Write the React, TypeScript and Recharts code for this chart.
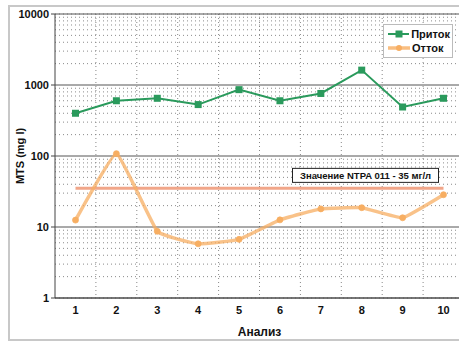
import { LineChart, Line, XAxis, YAxis, CartesianGrid, ReferenceLine } from "recharts"

const categories = ["1", "2", "3", "4", "5", "6", "7", "8", "9", "10"]
const inflow = [400, 600, 650, 530, 860, 600, 760, 1620, 490, 650]
const outflow = [12.5, 108, 8.7, 5.8, 6.7, 12.6, 18, 18.7, 13.5, 28.5]
const limit = 35
const limitText = "Значение NTPA 011 - 35 мг/л"
const yTicks = [1, 10, 100, 1000, 10000]
const minorValues = [1, 10, 100, 1000].flatMap((d) => [2, 3, 4, 5, 6, 7, 8, 9].map((m) => m * d))

const GREEN = "#2a9a5c"
const ORANGE = "#f7ae62"
const SALMON = "#f09c7c"
const FONT = "'Liberation Sans', Arial, sans-serif"

const data = categories.map((name, i) => ({
  name,
  inflow: inflow[i],
  outflow: outflow[i],
}))

// excel-like smoothed line (cardinal spline, same shape as d3's curveCardinal)
const cardinal = (tension) => {
  const k = (1 - tension) / 6
  return (context) => {
    let x0, y0, x1, y1, x2, y2, pt, line
    const seg = (x, y) => {
      context.bezierCurveTo(x1 + k * (x2 - x0), y1 + k * (y2 - y0), x2 + k * (x1 - x), y2 + k * (y1 - y), x2, y2)
    }
    return {
      areaStart() { line = 0 },
      areaEnd() { line = NaN },
      lineStart() {
        x0 = x1 = x2 = y0 = y1 = y2 = NaN
        pt = 0
      },
      lineEnd() {
        if (pt === 2) context.lineTo(x2, y2)
        else if (pt === 3) seg(x1, y1)
        if (line || (line !== 0 && pt === 1)) context.closePath()
        line = 1 - line
      },
      point(x, y) {
        x = +x
        y = +y
        if (pt === 0) {
          pt = 1
          line ? context.lineTo(x, y) : context.moveTo(x, y)
        } else if (pt === 1) {
          pt = 2
          x1 = x
          y1 = y
        } else {
          pt = 3
          seg(x, y)
        }
        x0 = x1; x1 = x2; x2 = x
        y0 = y1; y1 = y2; y2 = y
      },
    }
  }
}

const SquareDot = (props) => {
  const { cx, cy } = props
  if (cx == null || cy == null) return null
  return <rect x={cx - 3.5} y={cy - 3.5} width={7} height={7} fill={GREEN} />
}

const LegendBox = () => (
  <div
    style={{
      position: "absolute",
      left: 383,
      top: 24,
      width: 70,
      boxSizing: "border-box",
      background: "#fff",
      border: "1px solid #bbb",
      padding: "2px 2px 2px 4px",
      fontFamily: FONT,
      fontSize: 11,
      fontWeight: "bold",
      lineHeight: "14px",
      color: "#111",
    }}
  >
    <div style={{ display: "flex", alignItems: "center" }}>
      <svg width={22} height={10} style={{ marginRight: 2 }}>
        <line x1={0} y1={5} x2={22} y2={5} stroke={GREEN} strokeWidth={2} />
        <rect x={7.5} y={1.5} width={7} height={7} fill={GREEN} />
      </svg>
      Приток
    </div>
    <div style={{ display: "flex", alignItems: "center" }}>
      <svg width={22} height={10} style={{ marginRight: 2 }}>
        <line x1={0} y1={5} x2={22} y2={5} stroke={ORANGE} strokeWidth={3.5} strokeOpacity={0.8} />
        <circle cx={11} cy={5} r={3} fill={ORANGE} />
      </svg>
      Отток
    </div>
  </div>
)

const LimitLabel = (props) => {
  const vb = props.viewBox || {}
  const right = vb.x + vb.width
  const w = 146
  const h = 14
  return (
    <g>
      <rect x={right - w - 5} y={vb.y - h - 6} width={w} height={h} fill="#fff" stroke="#222" strokeWidth={1} />
      <text
        x={right - w / 2 - 5}
        y={vb.y - 6 - h / 2}
        textAnchor="middle"
        dominantBaseline="central"
        fontFamily={FONT}
        fontSize={9.5}
        fontWeight="bold"
        fill="#111"
      >
        {limitText}
      </text>
    </g>
  )
}

const YLabel = (props) => {
  const vb = props.viewBox || {}
  const x = vb.x + 20
  const y = vb.y + vb.height / 2
  return (
    <text
      x={x}
      y={y}
      transform={`rotate(-90 ${x} ${y})`}
      textAnchor="middle"
      dominantBaseline="central"
      fontFamily={FONT}
      fontSize={11}
      fontWeight="bold"
      fill="#111"
    >
      MTS (mg l)
    </text>
  )
}

const tickStyle = { fontFamily: FONT, fontSize: 11, fontWeight: "bold", fill: "#111" }

export default function App() {
  return (
    <div style={{ position: "absolute", left: 0, top: 0, width: 459, height: 343, overflow: "hidden", background: "#fff" }}>
      <div
        style={{
          position: "absolute",
          left: 8,
          top: 5,
          width: 470,
          height: 336,
          border: "2px solid #c8c8c8",
          boxSizing: "border-box",
        }}
      />
      <div style={{ position: "absolute", left: 0, top: 0 }}>
        <LineChart width={470} height={343} data={data} margin={{ top: 14, right: 6, bottom: 5, left: 0 }}>
          <CartesianGrid yAxisId="minor" vertical={false} stroke="#8a8a8a" strokeDasharray="1 3" />
          <CartesianGrid
            horizontal={false}
            stroke="#888"
            strokeDasharray="1 3"
            verticalCoordinatesGenerator={({ offset }) =>
              categories.slice(1).map((_, i) => offset.left + ((i + 1) * offset.width) / categories.length)
            }
          />
          <CartesianGrid vertical={false} stroke="#555" />
          <XAxis
            dataKey="name"
            padding={{ left: 20.5, right: 20.5 }}
            tick={tickStyle}
            tickLine={false}
            axisLine={{ stroke: "#444" }}
            height={40}
            label={{ value: "Анализ", position: "insideBottom", offset: 2, style: { fontFamily: FONT, fontSize: 12, fontWeight: "bold", fill: "#111" } }}
          />
          <YAxis
            scale="log"
            domain={[1, 10000]}
            ticks={yTicks}
            allowDataOverflow
            width={55}
            tick={tickStyle}
            tickSize={4}
            tickLine={{ stroke: "#444" }}
            axisLine={{ stroke: "#444" }}
            label={<YLabel />}
          />
          <YAxis
            yAxisId="minor"
            hide
            scale="log"
            domain={[1, 10000]}
            ticks={minorValues}
            interval={0}
            allowDataOverflow
          />
          <ReferenceLine
            segment={[
              { x: categories[0], y: limit },
              { x: categories[categories.length - 1], y: limit },
            ]}
            stroke={SALMON}
            strokeWidth={3}
            strokeOpacity={0.9}
            label={<LimitLabel />}
          />
          <Line
            dataKey="outflow"
            name="Отток"
            type={cardinal(0.7)}
            stroke={ORANGE}
            strokeWidth={3.5}
            strokeOpacity={0.75}
            dot={{ r: 3, fill: ORANGE, stroke: ORANGE, strokeWidth: 1 }}
            isAnimationActive={false}
          />
          <Line
            dataKey="inflow"
            name="Приток"
            type="linear"
            stroke={GREEN}
            strokeWidth={2}
            dot={<SquareDot />}
            isAnimationActive={false}
          />
        </LineChart>
      </div>
      <LegendBox />
    </div>
  )
}
